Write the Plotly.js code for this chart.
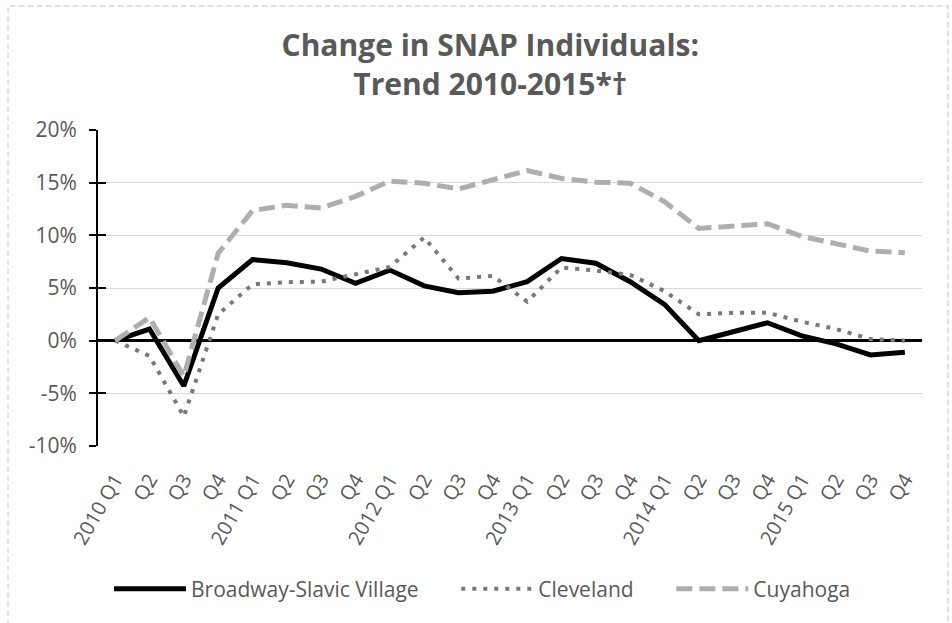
<!DOCTYPE html>
<html>
<head>
<meta charset="utf-8">
<script src="https://cdn.plot.ly/plotly-3.0.1.min.js"></script>
<style>html,body{margin:0;padding:0;background:#fff;}#chart{width:952px;height:623px;}</style>
</head>
<body>
<div id="chart"></div>
<script>
// Quarter categories and their displayed tick labels
const quarters = ["2010 Q1","2010 Q2","2010 Q3","2010 Q4",
  "2011 Q1","2011 Q2","2011 Q3","2011 Q4",
  "2012 Q1","2012 Q2","2012 Q3","2012 Q4",
  "2013 Q1","2013 Q2","2013 Q3","2013 Q4",
  "2014 Q1","2014 Q2","2014 Q3","2014 Q4",
  "2015 Q1","2015 Q2","2015 Q3","2015 Q4"];
const quarterLabels = ["2010 Q1","Q2","Q3","Q4",
  "2011 Q1","Q2","Q3","Q4",
  "2012 Q1","Q2","Q3","Q4",
  "2013 Q1","Q2","Q3","Q4",
  "2014 Q1","Q2","Q3","Q4",
  "2015 Q1","Q2","Q3","Q4"];

// Percent change in SNAP individuals (%)
const broadway  = [0, 1.1, -4.3, 5.0, 7.7, 7.4, 6.8, 5.45, 6.7, 5.2, 4.55, 4.7, 5.6, 7.8, 7.35, 5.6, 3.45, 0.0, 0.85, 1.7, 0.45, -0.3, -1.35, -1.1];
const cleveland = [0, -1.45, -7.2, 2.5, 5.35, 5.55, 5.6, 6.3, 7.0, 9.8, 5.9, 6.15, 3.7, 6.95, 6.65, 6.25, 4.7, 2.5, 2.65, 2.65, 1.8, 1.1, 0.15, 0.0];
const cuyahoga  = [0, 2.2, -3.4, 8.3, 12.35, 12.85, 12.6, 13.7, 15.15, 14.95, 14.4, 15.25, 16.15, 15.4, 15.05, 14.95, 13.2, 10.65, 10.9, 11.1, 9.9, 9.25, 8.5, 8.35];

const seriesNames = ["Broadway-Slavic Village", "Cleveland", "Cuyahoga"];

// Y axis ticks
const yTickVals = [-10, -5, 0, 5, 10, 15, 20];
const yTickText = ["-10%", "-5%", "0%", "5%", "10%", "15%", "20%"];

const txt = "#595959";
const fontFam = "'Open Sans', sans-serif";
const gap = "\u00a0".repeat(6); // spacing after legend entries

const traces = [
  {x: quarters, y: broadway, name: seriesNames[0] + gap, type: "scatter", mode: "lines",
   line: {color: "#000000", width: 5}},
  {x: quarters, y: cleveland, name: seriesNames[1] + gap, type: "scatter", mode: "lines",
   line: {color: "#7a7777", width: 4, dash: "4px,7px"}},
  {x: quarters, y: cuyahoga, name: seriesNames[2], type: "scatter", mode: "lines",
   line: {color: "#b0adad", width: 5, dash: "16px,7px"}},
  // empty helper so the overlaid tick axis (inner tick marks) is drawn
  {x: [], y: [], yaxis: "y2", type: "scatter", mode: "lines", showlegend: false, hoverinfo: "skip"}
];

const layout = {
  width: 952, height: 623,
  paper_bgcolor: "#ffffff", plot_bgcolor: "#ffffff",
  margin: {l: 98, r: 30, t: 130, b: 177},
  font: {family: fontFam, color: txt, size: 20},
  title: {
    text: "<b>Change in SNAP Individuals:<br>Trend 2010-2015*†</b>",
    font: {family: fontFam, size: 30, color: txt},
    xref: "container", x: 0.515, xanchor: "center",
    yref: "container", y: 1 - 56/623, yanchor: "top"
  },
  xaxis: {
    type: "category",
    tickmode: "array", tickvals: quarters, ticktext: quarterLabels,
    range: [-0.5, 23.5],
    tickangle: -60,
    showgrid: false, showline: false, zeroline: false,
    ticks: "", ticklabelstandoff: 17,
    tickfont: {size: 20, color: txt, family: fontFam}
  },
  yaxis: {
    range: [-10, 20],
    tickmode: "array", tickvals: yTickVals, ticktext: yTickText,
    showgrid: true, gridcolor: "#d9d9d9", gridwidth: 1,
    zeroline: true, zerolinecolor: "#000000", zerolinewidth: 2.5,
    showline: true, linecolor: "#000000", linewidth: 2,
    ticks: "outside", ticklen: 7, tickwidth: 2, tickcolor: "#000000",
    ticklabelstandoff: 8,
    tickfont: {size: 21, color: txt, family: fontFam}
  },
  yaxis2: {
    overlaying: "y", anchor: "x", side: "left",
    range: [-10, 20],
    tickmode: "array", tickvals: yTickVals,
    showticklabels: false, showgrid: false, zeroline: false, showline: false,
    ticks: "inside", ticklen: 8, tickwidth: 2, tickcolor: "#000000"
  },
  showlegend: true,
  legend: {
    orientation: "h", x: 0.4666, xanchor: "center",
    y: -0.4525, yanchor: "middle",
    font: {size: 21, color: txt, family: fontFam},
    itemwidth: 72, traceorder: "normal"
  },
  shapes: [{
    type: "rect", xref: "paper", yref: "paper",
    x0: -0.1092, x1: 1.0316, y0: -0.6, y1: 1.3924,
    line: {color: "#d9d9d9", width: 1.5, dash: "6px,3px"},
    fillcolor: "rgba(0,0,0,0)", layer: "below"
  }]
};

Plotly.newPlot("chart", traces, layout, {displayModeBar: false, staticPlot: true});
</script>
</body>
</html>
